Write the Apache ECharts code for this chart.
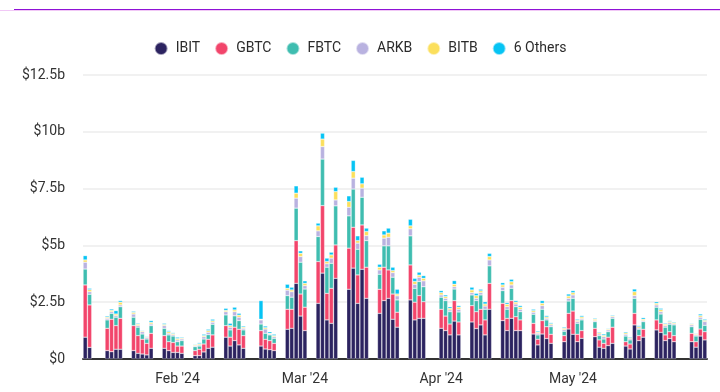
<!DOCTYPE html>
<html>
<head>
<meta charset="utf-8">
<script src="https://cdn.jsdelivr.net/npm/echarts@6/dist/echarts.min.js"></script>
<style>
html,body{margin:0;padding:0;background:#fff;}
#chart{width:720px;height:392px;}
</style>
</head>
<body>
<div id="chart"></div>
<script>
const seriesNames = ['IBIT', 'GBTC', 'FBTC', 'ARKB', 'BITB', '6 Others'];
const seriesColors = ['#2c2360', '#f2456b', '#3fbdb0', '#b9b2e0', '#fbdf5c', '#06c4f4'];

// trading days
const dates = [
'2024-01-11','2024-01-12','2024-01-16','2024-01-17','2024-01-18','2024-01-19',
'2024-01-22','2024-01-23','2024-01-24','2024-01-25','2024-01-26',
'2024-01-29','2024-01-30','2024-01-31','2024-02-01','2024-02-02',
'2024-02-05','2024-02-06','2024-02-07','2024-02-08','2024-02-09',
'2024-02-12','2024-02-13','2024-02-14','2024-02-15','2024-02-16',
'2024-02-20','2024-02-21','2024-02-22','2024-02-23',
'2024-02-26','2024-02-27','2024-02-28','2024-02-29','2024-03-01',
'2024-03-04','2024-03-05','2024-03-06','2024-03-07','2024-03-08',
'2024-03-11','2024-03-12','2024-03-13','2024-03-14','2024-03-15',
'2024-03-18','2024-03-19','2024-03-20','2024-03-21','2024-03-22',
'2024-03-25','2024-03-26','2024-03-27','2024-03-28',
'2024-04-01','2024-04-02','2024-04-03','2024-04-04','2024-04-05',
'2024-04-08','2024-04-09','2024-04-10','2024-04-11','2024-04-12',
'2024-04-15','2024-04-16','2024-04-17','2024-04-18','2024-04-19',
'2024-04-22','2024-04-23','2024-04-24','2024-04-25','2024-04-26',
'2024-04-29','2024-04-30','2024-05-01','2024-05-02','2024-05-03',
'2024-05-06','2024-05-07','2024-05-08','2024-05-09','2024-05-10',
'2024-05-13','2024-05-14','2024-05-15','2024-05-16','2024-05-17',
'2024-05-20','2024-05-21','2024-05-22','2024-05-23','2024-05-24',
'2024-05-28','2024-05-29','2024-05-30','2024-05-31'
];

// values in $ billions
const ibit = [
0.96,0.51,0.37,0.32,0.43,0.43,
0.37,0.25,0.22,0.18,0.47,
0.47,0.37,0.29,0.29,0.25,
0.15,0.15,0.31,0.47,0.52,
0.96,0.57,0.81,0.62,0.47,
0.57,0.44,0.41,0.37,
1.31,1.35,3.33,1.89,1.25,
2.45,3.78,1.72,1.57,3.55,
3.07,4.00,2.45,3.95,2.67,
2.01,2.57,2.67,1.75,1.40,
2.60,1.72,1.79,1.79,
1.35,1.25,1.06,1.67,1.06,
1.63,1.34,1.50,1.06,2.19,
1.69,1.25,1.79,1.25,1.25,
1.10,0.62,1.10,0.90,0.69,
0.76,1.32,1.09,0.76,0.91,
0.98,0.52,0.47,0.59,0.69,
0.57,0.44,1.50,0.81,0.96,
1.28,1.17,0.81,0.90,0.76,
0.76,0.52,1.01,0.84
];
const gbtc = [
2.30,1.87,0.98,1.43,1.04,1.36,
1.10,0.78,0.65,0.51,0.66,
0.56,0.39,0.44,0.28,0.32,
0.22,0.28,0.35,0.40,0.54,
0.51,0.39,0.59,0.69,0.56,
0.68,0.43,0.40,0.32,
0.88,0.84,1.88,0.97,1.03,
1.84,2.97,1.17,1.54,1.47,
1.81,1.80,1.25,1.95,1.37,
1.06,1.47,1.25,1.11,0.66,
1.54,0.78,1.00,0.73,
0.84,0.64,0.48,0.90,0.57,
0.72,0.74,0.69,0.66,1.14,
0.76,0.54,0.78,0.61,0.47,
0.47,0.25,0.59,0.52,0.40,
0.27,0.69,1.02,0.33,0.34,
0.37,0.32,0.22,0.37,0.71,
0.19,0.22,0.51,0.22,0.35,
0.44,0.40,0.25,0.30,0.27,
0.37,0.24,0.31,0.36
];
const fbtc = [
0.70,0.47,0.37,0.26,0.37,0.51,
0.37,0.37,0.23,0.19,0.34,
0.32,0.30,0.28,0.19,0.24,
0.17,0.14,0.22,0.20,0.47,
0.47,0.32,0.50,0.38,0.25,
0.29,0.26,0.25,0.22,
0.60,0.53,1.43,1.40,0.80,
1.10,2.05,1.15,1.10,1.72,
1.42,1.68,1.13,1.22,1.17,
0.66,0.94,1.06,0.74,0.54,
1.28,0.61,0.62,0.66,
0.53,0.68,0.54,0.51,0.44,
0.47,0.49,0.63,0.47,0.77,
0.56,0.40,0.54,0.44,0.36,
0.40,0.19,0.50,0.30,0.33,
0.19,0.54,0.56,0.48,0.47,
0.29,0.19,0.19,0.24,0.39,
0.25,0.18,0.66,0.28,0.33,
0.56,0.41,0.34,0.33,0.47,
0.29,0.25,0.43,0.28
];
const arkb = [
0.30,0.11,0.07,0.07,0.07,0.08,
0.14,0.07,0.10,0.07,0.07,
0.12,0.07,0.06,0.08,0.07,
0.04,0.05,0.10,0.11,0.09,
0.14,0.12,0.18,0.15,0.07,
0.18,0.19,0.04,0.07,
0.24,0.24,0.44,0.25,0.15,
0.25,0.55,0.15,0.23,0.26,
0.38,0.48,0.27,0.40,0.22,
0.19,0.34,0.38,0.20,0.18,
0.31,0.18,0.19,0.26,
0.10,0.10,0.08,0.10,0.12,
0.10,0.10,0.10,0.14,0.26,
0.15,0.11,0.15,0.12,0.11,
0.09,0.07,0.16,0.07,0.08,
0.07,0.12,0.15,0.08,0.06,
0.05,0.07,0.10,0.08,0.07,
0.08,0.06,0.12,0.05,0.05,
0.10,0.10,0.07,0.07,0.05,
0.08,0.05,0.09,0.17
];
const bitb = [
0.10,0.09,0.05,0.06,0.07,0.12,
0.07,0.06,0.04,0.03,0.07,
0.05,0.07,0.05,0.06,0.04,
0.04,0.05,0.05,0.07,0.06,
0.06,0.07,0.08,0.09,0.05,
0.03,0.06,0.03,0.05,
0.08,0.08,0.22,0.14,0.10,
0.22,0.33,0.10,0.14,0.37,
0.25,0.29,0.11,0.19,0.18,
0.12,0.14,0.18,0.09,0.08,
0.13,0.12,0.09,0.11,
0.10,0.08,0.07,0.11,0.09,
0.12,0.12,0.08,0.09,0.15,
0.10,0.11,0.14,0.08,0.09,
0.07,0.05,0.10,0.06,0.05,
0.06,0.10,0.10,0.05,0.07,
0.06,0.06,0.06,0.04,0.04,
0.06,0.04,0.17,0.06,0.06,
0.07,0.09,0.06,0.05,0.05,
0.04,0.04,0.07,0.05
];
const others = [
0.19,0.06,0.05,0.06,0.15,0.07,
0.05,0.04,0.03,0.03,0.08,
0.05,0.05,0.04,0.06,0.04,
0.03,0.05,0.06,0.06,0.07,
0.09,0.10,0.12,0.08,0.05,
0.82,0.07,0.07,0.06,
0.18,0.12,0.32,0.11,0.11,
0.12,0.26,0.15,0.12,0.19,
0.25,0.49,0.21,0.29,0.15,
0.13,0.18,0.22,0.15,0.21,
0.29,0.14,0.13,0.12,
0.09,0.07,0.07,0.16,0.07,
0.12,0.10,0.07,0.10,0.14,
0.10,0.07,0.11,0.07,0.07,
0.06,0.05,0.12,0.06,0.05,
0.05,0.09,0.09,0.05,0.06,
0.04,0.04,0.06,0.03,0.04,
0.05,0.04,0.12,0.05,0.07,
0.07,0.06,0.04,0.04,0.04,
0.03,0.03,0.07,0.05
];
const seriesValues = [ibit, gbtc, fbtc, arkb, bitb, others];

const yTickLabels = ['$0', '$2.5b', '$5b', '$7.5b', '$10b', '$12.5b'];
const xTickDates = ['2024-02-01', '2024-03-01', '2024-04-01', '2024-05-01'];
const xTickLabels = ["Feb '24", "Mar '24", "Apr '24", "May '24"];

// calendar-day categories from first to last trading day
function pad(n) { return (n < 10 ? '0' : '') + n; }
const calendarDays = [];
(function () {
  const p0 = dates[0].split('-').map(Number);
  const p1 = dates[dates.length - 1].split('-').map(Number);
  let t = Date.UTC(p0[0], p0[1] - 1, p0[2]);
  const end = Date.UTC(p1[0], p1[1] - 1, p1[2]);
  while (t <= end) {
    const d = new Date(t);
    calendarDays.push(d.getUTCFullYear() + '-' + pad(d.getUTCMonth() + 1) + '-' + pad(d.getUTCDate()));
    t += 86400000;
  }
})();
const dateIndex = {};
dates.forEach(function (d, i) { dateIndex[d] = i; });

const chart = echarts.init(document.getElementById('chart'), null, {renderer: 'canvas'});
const FONT = 'Roboto, "Liberation Sans", sans-serif';

chart.setOption({
  animation: false,
  backgroundColor: '#ffffff',
  color: seriesColors,
  graphic: [
    {type: 'line', shape: {x1: 0, y1: 10.5, x2: 720, y2: 10.5}, style: {stroke: '#f1c8f6', lineWidth: 1}},
    {type: 'line', shape: {x1: 14, y1: 9.5, x2: 720, y2: 9.5}, style: {stroke: '#8f12d6', lineWidth: 1}}
  ],
  legend: {
    top: 36,
    left: 'center',
    icon: 'circle',
    itemWidth: 13,
    itemHeight: 13,
    itemGap: 14,
    textStyle: {fontFamily: FONT, fontSize: 14, color: '#2b2b2b', padding: [0, 0, 0, 3]},
    data: seriesNames
  },
  grid: {left: 83, right: 13, top: 75, bottom: 33, containLabel: false},
  xAxis: {
    type: 'category',
    data: calendarDays,
    boundaryGap: true,
    axisLine: {show: true, lineStyle: {color: '#333333', width: 2}},
    axisTick: {show: false},
    splitLine: {show: false},
    axisLabel: {
      margin: 13,
      fontFamily: FONT,
      fontSize: 14,
      color: '#333333',
      interval: function (idx, val) { return xTickDates.indexOf(val) >= 0; },
      formatter: function (val) {
        const i = xTickDates.indexOf(val);
        return i >= 0 ? xTickLabels[i] : '';
      }
    }
  },
  yAxis: {
    type: 'value',
    min: 0,
    max: 12.5,
    interval: 2.5,
    axisLine: {show: false},
    axisTick: {show: false},
    splitLine: {lineStyle: {color: '#ececec', width: 1.5}},
    axisLabel: {
      margin: 18,
      fontFamily: FONT,
      fontSize: 14,
      color: '#333333',
      formatter: function (v) { return yTickLabels[Math.round(v / 2.5)]; }
    }
  },
  series: seriesNames.map(function (name, si) {
    return {
      name: name,
      type: 'bar',
      stack: 'total',
      barWidth: 4.2,
      itemStyle: {color: seriesColors[si], borderColor: 'rgba(255,255,255,0.55)', borderWidth: 0.5},
      data: calendarDays.map(function (d) {
        const i = dateIndex[d];
        return i === undefined ? '-' : seriesValues[si][i];
      })
    };
  })
});
</script>
</body>
</html>
